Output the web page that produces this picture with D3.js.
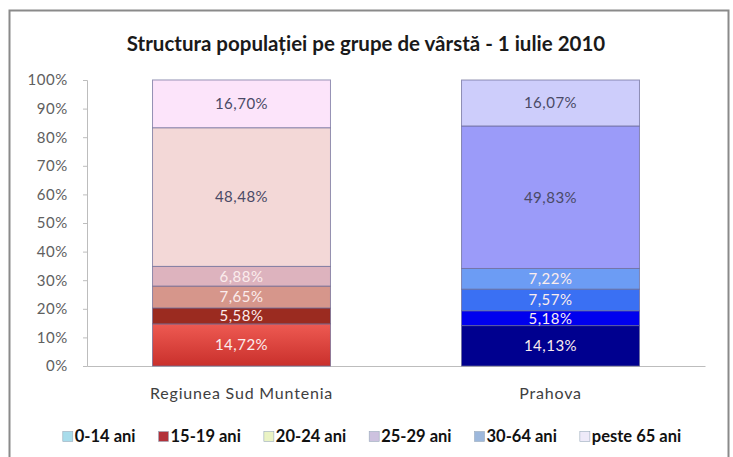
<!DOCTYPE html>
<meta charset="utf-8">
<script src="https://d3js.org/d3.v7.min.js"></script>
<style>
  body { margin: 0; background: #fff; }
  text { font-family: Lato, "Open Sans", sans-serif; }
</style>
<div id="my_dataviz"></div>
<script>
// Data
var categories = ["Regiunea Sud Muntenia", "Prahova"];
var groups = ["0-14 ani", "15-19 ani", "20-24 ani", "25-29 ani", "30-64 ani", "peste 65 ani"];
var sudMuntenia = [14.72, 5.58, 7.65, 6.88, 48.48, 16.70];
var prahova = [14.13, 5.18, 7.57, 7.22, 49.83, 16.07];
var yTicks = [0, 10, 20, 30, 40, 50, 60, 70, 80, 90, 100];

// segment fills per bar, and legend swatches
var sudColors = ["#DE3D37", "#9B2B20", "#D6968B", "#DDB3BE", "#F3D8D7", "#FCE4FA"];
var prahovaColors = ["#00008F", "#0000EE", "#3A70F3", "#6C9CF4", "#9B9BF9", "#CDCDFB"];
var legendColors = ["#A8DCEB", "#B2313A", "#EAF3C4", "#CDC2DF", "#9DB8DC", "#EEEAF9"];
var labelColors = ["#FBEDED", "#FBEDED", "#FBEDED", "#FBEDED", "#4A4A66", "#4A4A66"];

var W = 733, H = 457;
var svg = d3.select("#my_dataviz").append("svg")
  .attr("width", W).attr("height", H);

// gradient for the bright red segment
var grad = svg.append("defs").append("linearGradient")
  .attr("id", "redGrad").attr("x1", 0).attr("y1", 0).attr("x2", 0).attr("y2", 1);
grad.append("stop").attr("offset", "0%").attr("stop-color", "#EE5A52");
grad.append("stop").attr("offset", "100%").attr("stop-color", "#C9302C");
sudColors[0] = "url(#redGrad)";

// outer frame
svg.append("rect")
  .attr("x", 9.5).attr("y", 10.5)
  .attr("width", 719).attr("height", H)
  .attr("fill", "#fff")
  .attr("stroke", "#8a8a8a").attr("stroke-width", 2);

// title
svg.append("text")
  .attr("x", 366).attr("y", 51)
  .attr("text-anchor", "middle")
  .style("font-size", "20.5px")
  .style("font-weight", "bold")
  .style("fill", "#1a1a1a")
  .text("Structura populației pe grupe de vârstă - 1 iulie 2010");

var plot = {left: 87, right: 705, top: 80, bottom: 366};

var x = d3.scaleBand()
  .domain(categories)
  .range([plot.left, plot.right])
  .padding(0);
var barW = x.bandwidth() * 0.576;

var y = d3.scaleLinear()
  .domain([0, 100])
  .range([plot.bottom, plot.top]);

// y axis
var yAxis = svg.append("g")
  .attr("transform", "translate(" + plot.left + ",0)")
  .call(d3.axisLeft(y).tickValues(yTicks).tickSize(4).tickPadding(15)
    .tickFormat(function(d) { return d + "%"; }));
yAxis.select(".domain").attr("stroke", "#bdbdbd");
yAxis.selectAll(".tick line").attr("stroke", "#bdbdbd");
yAxis.selectAll(".tick text")
  .style("font-size", "15px")
  .style("letter-spacing", "0.6px")
  .style("fill", "#606060")
  .style("font-family", "Lato, sans-serif");

// x axis
var xAxis = svg.append("g")
  .attr("transform", "translate(0," + plot.bottom + ")")
  .call(d3.axisBottom(x).tickSize(0).tickPadding(22));
xAxis.select(".domain").attr("stroke", "#bdbdbd");
xAxis.selectAll(".tick text")
  .style("font-size", "16px")
  .style("letter-spacing", "0.8px")
  .style("fill", "#404040")
  .style("font-family", "Lato, sans-serif");

// stacked bars
var series = [sudMuntenia, prahova];
var palettes = [sudColors, prahovaColors];
categories.forEach(function(cat, i) {
  var vals = series[i];
  var cum = 0;
  var segs = vals.map(function(v, j) {
    var s = {y0: cum, y1: cum + v, v: v, j: j};
    cum += v;
    return s;
  });
  var g = svg.append("g");
  var cx = x(cat) + x.bandwidth() / 2;
  g.selectAll("rect")
    .data(segs)
    .enter().append("rect")
    .attr("x", cx - barW / 2)
    .attr("y", function(d) { return y(d.y1); })
    .attr("width", barW)
    .attr("height", function(d) { return y(d.y0) - y(d.y1); })
    .attr("fill", function(d) { return palettes[i][d.j]; })
    .attr("stroke", "#6a6a96")
    .attr("stroke-opacity", 0.7)
    .attr("stroke-width", 1);
  g.selectAll("text")
    .data(segs)
    .enter().append("text")
    .attr("x", cx)
    .attr("y", function(d) { return y((d.y0 + d.y1) / 2); })
    .attr("dy", "0.36em")
    .attr("text-anchor", "middle")
    .style("font-size", "15px")
    .style("letter-spacing", "0.5px")
    .style("fill", function(d) { return labelColors[d.j]; })
    .text(function(d) { return d3.format(".2f")(d.v).replace(".", ",") + "%"; });
});

// legend
var legend = svg.append("g");
var lx = 0, gap = 23;
groups.forEach(function(gName, i) {
  var it = legend.append("g");
  it.append("rect")
    .attr("x", 0).attr("y", -10.5)
    .attr("width", 10).attr("height", 10)
    .attr("fill", legendColors[i])
    .attr("stroke", "#9ab")
    .attr("stroke-width", 0.6);
  var t = it.append("text")
    .attr("x", 12).attr("y", 0)
    .style("font-size", "16.5px")
    .style("font-weight", "bold")
    .style("fill", "#111")
    .text(gName);
  var w = 12 + t.node().getComputedTextLength();
  it.attr("transform", "translate(" + lx + ",0)");
  lx += w + gap;
});
var totalW = lx - gap;
legend.attr("transform", "translate(" + (372 - totalW / 2) + ",442)");
</script>
